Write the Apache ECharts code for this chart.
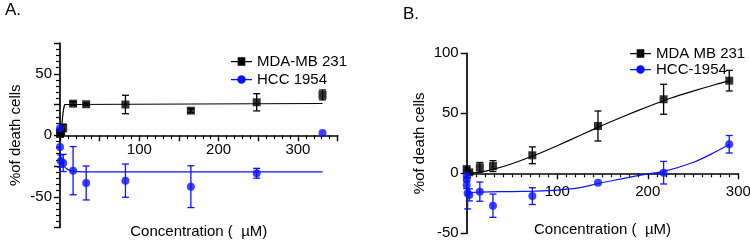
<!DOCTYPE html>
<html>
<head>
<meta charset="utf-8">
<script src="https://cdn.jsdelivr.net/npm/echarts@6/dist/echarts.min.js"></script>
<style>
  html, body { margin: 0; padding: 0; background: #fff; }
  #chart { width: 750px; height: 241px; }
</style>
</head>
<body>
<div id="chart"></div>
<script>
// ---- Panel A : measured points (concentration, % death, error) ----
const concA_mda  = [0, 1.5, 4, 16.5, 33, 82.5, 165, 248, 331];
const deathA_mda = [1, 3, 6, 25.7, 25.2, 25, 20, 26.8, 32.8];
const errA_mda   = [1.5, 2, 3, 1.5, 1, 7.5, 1.5, 7, 4];

const concA_hcc  = [0, 0, 1, 4, 16.5, 33, 82.5, 165, 248, 331];
const deathA_hcc = [5.7, -9.5, -21, -22.5, -28.8, -38.8, -36.9, -41.8, -30.9, 1.9];
const errA_hcc   = [0, 0, 5, 7, 19.6, 13.8, 13.5, 17, 4, 0];

// Panel A : fitted curves
const fitA_mda_x = [0, 2, 3, 4, 5, 6, 8, 331];
const fitA_mda_y = [0, 6, 13, 19, 23, 25, 25.7, 25.8];
const fitA_hcc_x = [0, 4, 8, 12, 18, 30, 331];
const fitA_hcc_y = [-20, -24, -27, -28.6, -29.4, -29.7, -29.8];

// ---- Panel B ----
const concB_mda  = [0, 2.9, 14.5, 29, 72.5, 145, 217.5, 290];
const deathB_mda = [3.5, 0.8, 5, 6, 15, 39.4, 61.7, 77.2];
const errB_mda   = [1, 1, 4, 4.5, 7, 12.5, 12.5, 8.6];

const concB_hcc  = [0, 0, 0, 1, 2.9, 14.5, 29, 72.5, 145, 217.5, 290];
const deathB_hcc = [-2.2, -5, -9.7, -16.7, -18, -15.3, -27, -19, -7.8, 0.5, 24.2];
const errB_hcc   = [0, 0, 3, 13, 5, 8, 9.7, 7, 0, 9.4, 7.3];

const fitB_mda_x = [3, 15, 30, 50, 75, 100, 125, 150, 175, 200, 225, 250, 275, 290];
const fitB_mda_y = [0, 1, 3.5, 8, 15, 23, 31.5, 40, 48, 55.5, 62.5, 68.5, 74, 77];
const fitB_hcc_x = [3, 25, 50, 75, 100, 125, 145, 175, 200, 217, 250, 270, 290];
const fitB_hcc_y = [-16, -15.5, -15.2, -14.8, -14, -12, -8.5, -4, -0.5, 1.4, 9, 16, 24];

const xTicksA = [100, 200, 300];
const yTicksA = [-50, 0, 50];
const xTicksB = [100, 200, 300];
const yTicksB = [-50, 0, 50, 100];

const BLACK = '#000000';
const BLUE = '#0a14ff';
const FONT = 'Liberation Sans, Arial, sans-serif';

const zip = (xs, ys) => xs.map((x, i) => [x, ys[i]]);
const zip3 = (xs, ys, es) => xs.map((x, i) => [x, ys[i], es[i]]);

function errorBars(idx, color, data) {
  return {
    type: 'custom',
    xAxisIndex: idx,
    yAxisIndex: idx,
    silent: true,
    z: 3,
    data: data,
    renderItem: (params, api) => {
      const x = api.value(0), y = api.value(1), e = api.value(2);
      if (!e) return { type: 'group', children: [] };
      const hi = api.coord([x, y + e]);
      const lo = api.coord([x, y - e]);
      const w = 3.5;
      const style = { stroke: color, lineWidth: 1.3 };
      return {
        type: 'group',
        children: [
          { type: 'line', shape: { x1: hi[0], y1: hi[1], x2: lo[0], y2: lo[1] }, style },
          { type: 'line', shape: { x1: hi[0] - w, y1: hi[1], x2: hi[0] + w, y2: hi[1] }, style },
          { type: 'line', shape: { x1: lo[0] - w, y1: lo[1], x2: lo[0] + w, y2: lo[1] }, style }
        ]
      };
    }
  };
}

function points(idx, name, color, symbol, data) {
  return {
    name, type: 'scatter', xAxisIndex: idx, yAxisIndex: idx,
    symbol, symbolSize: 8, z: 4,
    itemStyle: { color },
    data
  };
}

function fit(idx, name, color, data, smooth) {
  return {
    name, type: 'line', xAxisIndex: idx, yAxisIndex: idx,
    showSymbol: false, smooth, z: 2,
    lineStyle: { color, width: 1.2 },
    itemStyle: { color },
    data
  };
}

const pick = (list) => (v) => (list.includes(v) ? String(v) : '');

// offset pulls the bottom axis up to the y = 0 line of its grid
function xAxis(idx, max, interval, minorSplit, ticks, offset, nameGap, labelMargin) {
  return {
    gridIndex: idx, type: 'value', min: 0, max, interval, position: 'bottom', offset,
    axisLine: { onZero: false, lineStyle: { color: BLACK, width: 1.7 } },
    axisTick: { length: 6, lineStyle: { color: BLACK, width: 1.4 } },
    minorTick: { show: true, splitNumber: minorSplit, length: 4, lineStyle: { color: BLACK, width: 1.2 } },
    splitLine: { show: false },
    axisLabel: { color: BLACK, fontSize: 15, fontFamily: FONT, margin: labelMargin, formatter: pick(ticks), showMinLabel: true, showMaxLabel: true },
    name: 'Concentration (  µM)', nameLocation: 'middle', nameGap,
    nameTextStyle: { color: BLACK, fontSize: 15, fontFamily: FONT }
  };
}

function yAxis(idx, min, max, interval, minor, ticks, nameGap) {
  return {
    gridIndex: idx, type: 'value', min, max, interval,
    axisLine: { onZero: false, lineStyle: { color: BLACK, width: 1.7 } },
    axisTick: { length: 6, lineStyle: { color: BLACK, width: 1.4 } },
    minorTick: { show: minor > 0, splitNumber: minor || 5, length: 4, lineStyle: { color: BLACK, width: 1.2 } },
    splitLine: { show: false },
    axisLabel: { color: BLACK, fontSize: 15, fontFamily: FONT, margin: 8, formatter: pick(ticks), showMinLabel: true, showMaxLabel: true },
    name: '%of death cells', nameLocation: 'middle', nameGap,
    nameTextStyle: { color: BLACK, fontSize: 15, fontFamily: FONT }
  };
}

const ICON_SQ = 'path://M0,4H22V5.2H0Z M7,0H15V9H7Z';
const ICON_CI = 'path://M0,4H22V5.2H0Z M15.5,4.5A4.5,4.5 0 1 1 6.5,4.5A4.5,4.5 0 1 1 15.5,4.5Z';

function legend(left, top, gap, names) {
  return {
    orient: 'vertical', left, top, itemGap: gap, itemWidth: 21, itemHeight: 9,
    selectedMode: false, z: 10,
    textStyle: { color: BLACK, fontSize: 15, fontFamily: FONT, lineHeight: 15 },
    data: [
      { name: names[0], icon: ICON_SQ },
      { name: names[1], icon: ICON_CI }
    ]
  };
}

const chart = echarts.init(document.getElementById('chart'), null, { renderer: 'canvas' });

chart.setOption({
  animation: false,
  title: [
    { text: 'A.', left: 0, top: -3, textStyle: { fontSize: 17, fontWeight: 'normal', color: BLACK, fontFamily: FONT } },
    { text: 'B.', left: 398, top: 1, textStyle: { fontSize: 17, fontWeight: 'normal', color: BLACK, fontFamily: FONT } }
  ],
  legend: [
    legend(226, 49, 3, ['MDA-MB 231', 'HCC 1954']),
    legend(625, 41, 1, ['MDA MB 231', 'HCC-1954'])
  ],
  grid: [
    { left: 60, top: 43, width: 277.6, height: 184.5, containLabel: false, outerBoundsMode: 'none' },
    { left: 466.7, top: 53.3, width: 271.6, height: 180, containLabel: false, outerBoundsMode: 'none' }
  ],
  xAxis: [
    xAxis(0, 350, 50, 5, xTicksA, -92.25, 89, 7),
    xAxis(1, 300, 100, 10, xTicksB, -60, 49, 11)
  ],
  yAxis: [
    yAxis(0, -75, 75, 25, 5, yTicksA, 37),
    yAxis(1, -50, 100, 50, 0, yTicksB, 39)
  ],
  series: [
    fit(0, 'MDA-MB 231', BLACK, zip(fitA_mda_x, fitA_mda_y), false),
    fit(0, 'HCC 1954', BLUE, zip(fitA_hcc_x, fitA_hcc_y), 0.3),
    errorBars(0, BLACK, zip3(concA_mda, deathA_mda, errA_mda)),
    errorBars(0, BLUE, zip3(concA_hcc, deathA_hcc, errA_hcc)),
    points(0, 'MDA-MB 231', BLACK, 'rect', zip(concA_mda, deathA_mda)),
    points(0, 'HCC 1954', BLUE, 'circle', zip(concA_hcc, deathA_hcc)),

    fit(1, 'MDA MB 231', BLACK, zip(fitB_mda_x, fitB_mda_y), 0.2),
    fit(1, 'HCC-1954', BLUE, zip(fitB_hcc_x, fitB_hcc_y), 0.2),
    errorBars(1, BLACK, zip3(concB_mda, deathB_mda, errB_mda)),
    errorBars(1, BLUE, zip3(concB_hcc, deathB_hcc, errB_hcc)),
    points(1, 'MDA MB 231', BLACK, 'rect', zip(concB_mda, deathB_mda)),
    points(1, 'HCC-1954', BLUE, 'circle', zip(concB_hcc, deathB_hcc))
  ]
});
</script>
</body>
</html>
